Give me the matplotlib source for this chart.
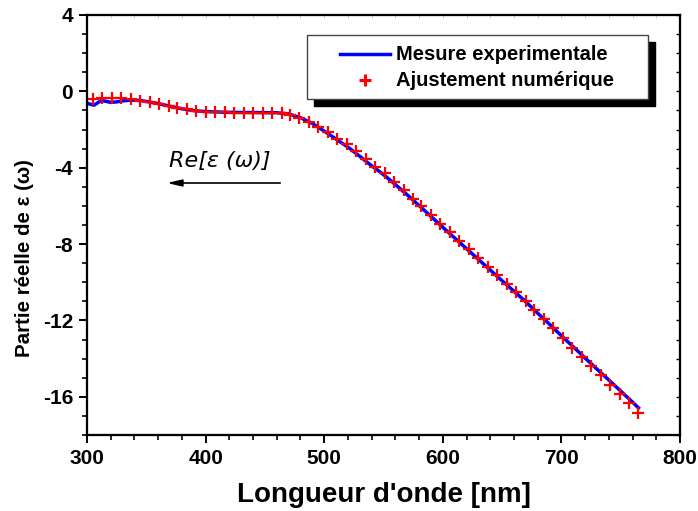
import matplotlib
matplotlib.use("Agg")
import matplotlib.pyplot as plt
from matplotlib.patches import Rectangle, Polygon
from matplotlib.lines import Line2D
from matplotlib.ticker import MultipleLocator

# --- data ---
x_meas = [300, 303, 306, 309, 312, 316, 320, 325, 330, 335, 340, 345, 350, 360, 370,
          380, 390, 400, 420, 440, 460, 470, 480, 490, 500, 510, 520, 530, 540, 550,
          560, 570, 580, 590, 600, 610, 620, 630, 640, 650, 660, 670, 680, 690, 700,
          710, 720, 730, 740, 750, 760, 765]
y_meas = [-0.62, -0.68, -0.72, -0.60, -0.48, -0.52, -0.58, -0.55, -0.50, -0.47, -0.46,
          -0.48, -0.53, -0.64, -0.78, -0.91, -1.01, -1.06, -1.10, -1.11, -1.12, -1.18,
          -1.38, -1.68, -2.08, -2.50, -2.92, -3.40, -3.90, -4.36, -4.88, -5.42, -5.98,
          -6.55, -7.12, -7.68, -8.24, -8.80, -9.36, -9.92, -10.47, -11.02, -11.62,
          -12.20, -12.80, -13.38, -13.97, -14.55, -15.12, -15.70, -16.28, -16.58]

x_fit = [305, 313, 321, 329, 337, 345, 353, 361, 369, 376, 384, 392, 400, 408, 416,
         424, 432, 440, 448, 456, 464, 471, 479, 487, 495, 503, 511, 519, 527, 535,
         543, 551, 559, 567, 575, 582, 590, 598, 606, 614, 622, 630, 638, 646, 654,
         662, 670, 677, 685, 693, 701, 709, 717, 725, 733, 741, 749, 757, 765]
y_fit = [-0.42, -0.36, -0.35, -0.37, -0.41, -0.48, -0.56, -0.66, -0.77, -0.86, -0.95,
         -1.02, -1.07, -1.09, -1.10, -1.11, -1.11, -1.11, -1.11, -1.12, -1.15, -1.24,
         -1.40, -1.62, -1.85, -2.14, -2.47, -2.78, -3.15, -3.55, -3.98, -4.30, -4.75,
         -5.15, -5.63, -6.03, -6.48, -6.93, -7.38, -7.83, -8.28, -8.73, -9.18, -9.63,
         -10.08, -10.53, -10.98, -11.44, -11.92, -12.42, -12.93, -13.42, -13.90,
         -14.40, -14.88, -15.36, -15.85, -16.33, -16.85]

label_meas = "Mesure experimentale"
label_fit = "Ajustement numérique"
xlabel = "Longueur d'onde [nm]"
ylabel = "Partie réelle de ε (ω)"
annot = "Re[ε (ω)]"

plt.rcParams['font.family'] = ['Liberation Sans', 'DejaVu Sans']
plt.rcParams['axes.unicode_minus'] = False

W, H = 698, 511
fig = plt.figure(figsize=(W / 100, H / 100), dpi=100)
ax = fig.add_axes([87 / W, 1 - 435 / H, (680 - 87) / W, (435 - 15) / H])

ax.plot(x_meas, y_meas, color='#0000ff', lw=2.5, zorder=2)
ax.plot(x_fit, y_fit, ls='none', marker='+', ms=9, mew=1.6, color='#ff0000', zorder=3)

ax.set_xlim(300, 800)
ax.set_ylim(-18, 4)
ax.xaxis.set_major_locator(MultipleLocator(100))
ax.xaxis.set_minor_locator(MultipleLocator(20))
ax.yaxis.set_major_locator(MultipleLocator(4))
ax.yaxis.set_minor_locator(MultipleLocator(1))

for s in ax.spines.values():
    s.set_linewidth(1.5)

ax.tick_params(axis='both', which='major', direction='out', length=6, width=1.4,
               labelsize=15, pad=4)
ax.tick_params(axis='both', which='minor', direction='out', length=3.5, width=1.2)
for lab in ax.get_xticklabels() + ax.get_yticklabels():
    lab.set_fontweight('bold')

# right/top ticks via twin axes
axr = ax.twinx()
axr.set_ylim(-18, 4)
axr.yaxis.set_major_locator(MultipleLocator(1))
axr.tick_params(axis='y', which='major', direction='in', length=3, width=1.0,
                labelright=False)
axt = ax.twiny()
axt.set_xlim(300, 800)
axt.xaxis.set_major_locator(MultipleLocator(20))
axt.tick_params(axis='x', which='major', direction='in', length=2, width=0.6,
                color='#bbbbbb', labeltop=False)
for a in (axr, axt):
    for s in a.spines.values():
        s.set_linewidth(1.5)

ax.set_xlabel(xlabel, fontsize=20, fontweight='bold', labelpad=10)
ax.set_ylabel(ylabel, fontsize=14.8, fontweight='bold', va='center', ha='center')
ax.yaxis.set_label_coords((25 - 87) / 593, (435 - 258) / 420)

# annotation with arrow (pixel coords from top-left)
fig.text(220 / W, 1 - 161 / H, annot, fontsize=16, style='italic',
         family='DejaVu Sans', ha='center', va='center')
fig.add_artist(Line2D([181 / W, 280 / W], [1 - 183 / H, 1 - 183 / H], color='black', lw=1.2))
fig.add_artist(Polygon([[170 / W, 1 - 183 / H], [183 / W, 1 - 180 / H], [183 / W, 1 - 186 / H]],
                       closed=True, color='black', transform=fig.transFigure))

# legend box with shadow (pixel coords from top)
bx0, bx1, by0, by1 = 307, 648, 35, 99
off = 7
fig.add_artist(Rectangle(((bx0 + off) / W, 1 - (by1 + off) / H), (bx1 - bx0) / W, (by1 - by0) / H,
                         transform=fig.transFigure, facecolor='black', edgecolor='black', zorder=5))
fig.add_artist(Rectangle((bx0 / W, 1 - by1 / H), (bx1 - bx0) / W, (by1 - by0) / H,
                         transform=fig.transFigure, facecolor='white', edgecolor='#444444',
                         lw=1.0, zorder=6))
fig.add_artist(Line2D([340 / W, 390 / W], [1 - 54 / H, 1 - 54 / H], color='#0000ff', lw=2.5, zorder=7))
fig.add_artist(Line2D([365 / W], [1 - 80 / H], ls='none', marker='+', ms=9, mew=2.2,
                      color='#ff0000', zorder=7))
fig.text(396 / W, 1 - 54 / H, label_meas, fontsize=14.5, fontweight='bold', va='center', ha='left', zorder=7)
fig.text(396 / W, 1 - 80 / H, label_fit, fontsize=14.5, fontweight='bold', va='center', ha='left', zorder=7)

fig.savefig('out.png', dpi=100)
